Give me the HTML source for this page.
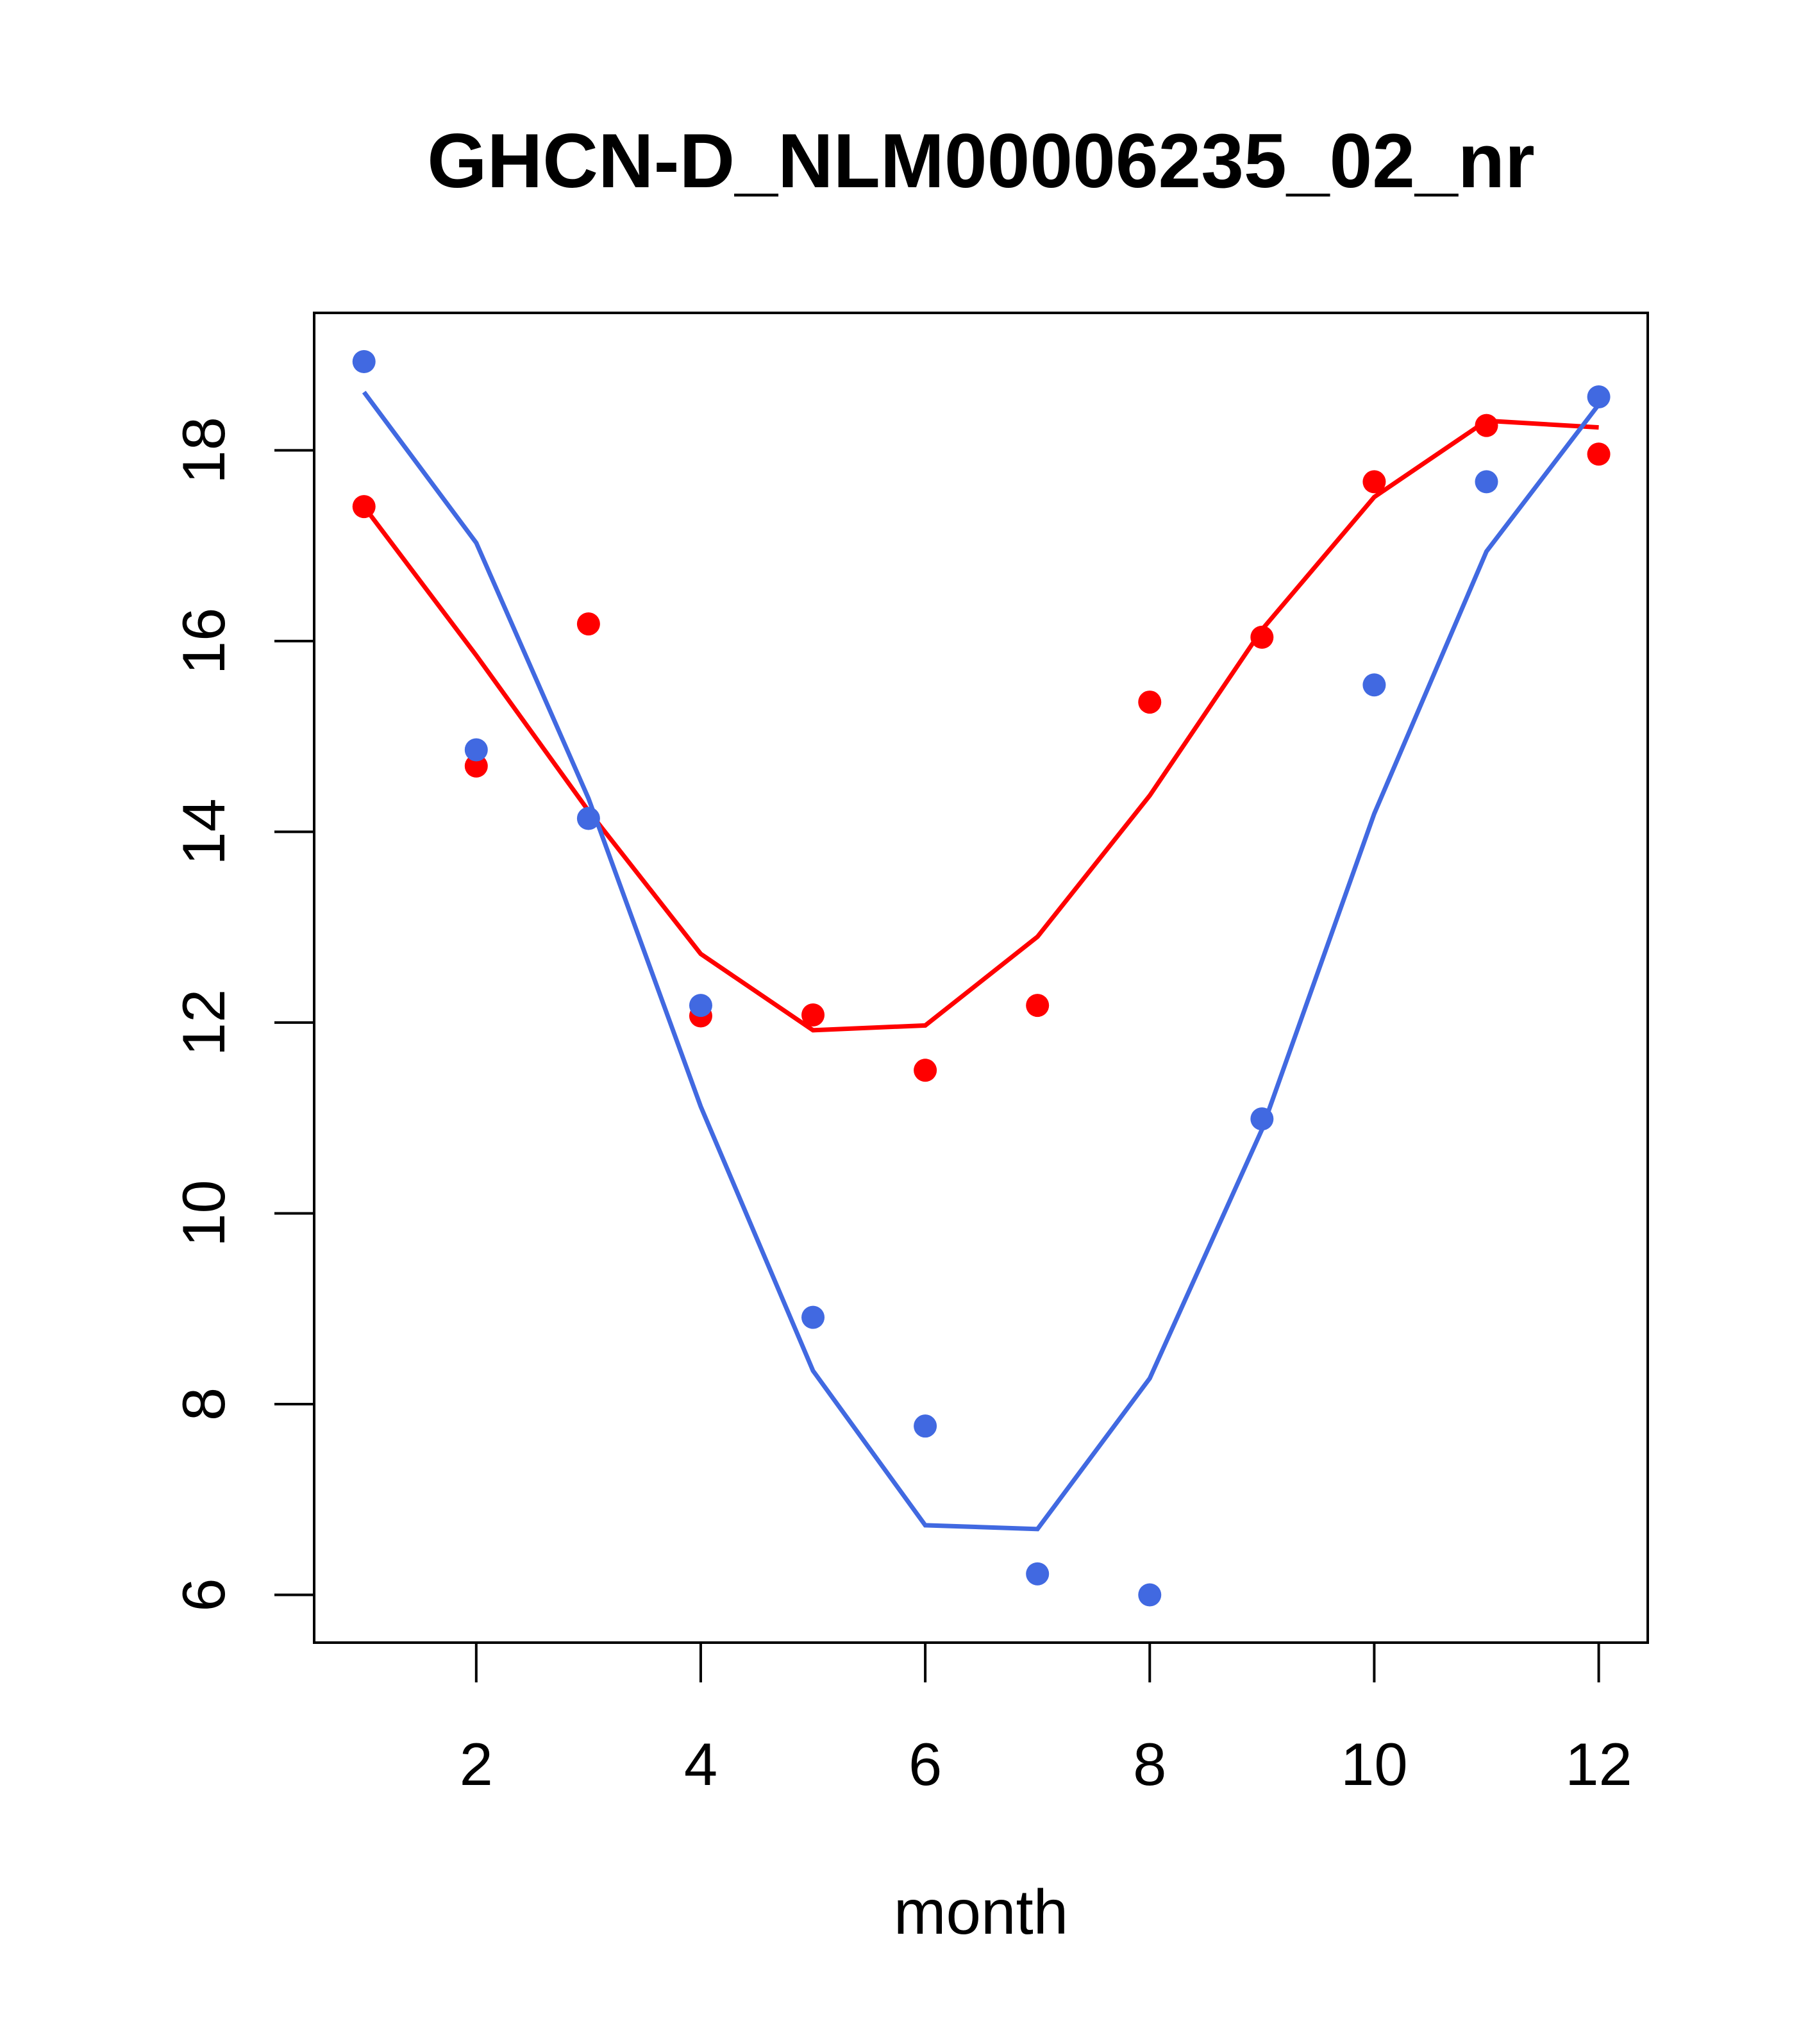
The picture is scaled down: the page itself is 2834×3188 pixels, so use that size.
<!DOCTYPE html>
<html><head><meta charset="utf-8"><style>
html,body{margin:0;padding:0;background:#fff}
svg{display:block}
text{font-family:"Liberation Sans",Arial,sans-serif}
</style></head><body>
<svg id="chart" width="2834" height="3188" xmlns="http://www.w3.org/2000/svg">
<rect width="2834" height="3188" fill="#fff"/>
<text x="1530" y="292" text-anchor="middle" font-size="120" font-weight="bold">GHCN-D_NLM00006235_02_nr</text>
<text x="1530" y="3016" text-anchor="middle" font-size="98">month</text>
<rect x="490" y="488" width="2080" height="2074" fill="none" stroke="#000" stroke-width="4"/>
<g id="xaxis"></g>
<g id="yaxis"></g>
<g id="series"></g>
</svg>
<script>
const months = [1,2,3,4,5,6,7,8,9,10,11,12];
const redPoints = [17.41,14.69,16.18,12.07,12.08,11.50,12.18,15.36,16.04,17.67,18.26,17.96];
const redLine = [17.41,15.85,14.22,12.72,11.92,11.97,12.90,14.38,16.12,17.51,18.31,18.24];
const bluePoints = [18.93,14.86,14.14,12.18,8.91,7.77,6.22,6.00,10.99,15.54,17.67,18.56];
const blueLine = [18.61,17.03,14.35,11.12,8.35,6.73,6.69,8.27,10.88,14.19,16.94,18.48];
const xTicks = [2,4,6,8,10,12];
const yTicks = [6,8,10,12,14,16,18];

const S = 2.024;
function xs(m){return (280.5 + (m-1)*86.5)*S;}
function ys(v){return (347 + (18-v)*73.5)*S;}
const NS="http://www.w3.org/2000/svg";
function mk(tag,attrs,parent){const e=document.createElementNS(NS,tag);for(const k in attrs)e.setAttribute(k,attrs[k]);parent.appendChild(e);return e;}
const xa=document.getElementById('xaxis'), ya=document.getElementById('yaxis'), sg=document.getElementById('series');
mk('line',{x1:xs(2),x2:xs(12),y1:2562,y2:2562,stroke:'#000','stroke-width':4},xa);
xTicks.forEach(t=>{
  const l=mk('line',{x1:xs(t),x2:xs(t),y1:2562,y2:2624,stroke:'#000','stroke-width':4},xa);
  
  
  const tx=mk('text',{x:xs(t),y:2784,'text-anchor':'middle','font-size':94},xa);
  tx.textContent=t;
  
  
});
yTicks.forEach(t=>{
  const y=ys(t);
  const l=mk('line',{x1:428,x2:490,y1:y,y2:y,stroke:'#000','stroke-width':4},ya);
  
  
  const tx=mk('text',{x:0,y:0,'text-anchor':'middle','font-size':94,transform:`translate(350,${y}) rotate(-90)`},ya);
  tx.textContent=t;
  
  
});
function line(vals,color,name){
  const p=mk('polyline',{points:vals.map((v,i)=>xs(months[i])+','+ys(v)).join(' '),fill:'none',stroke:color,'stroke-width':7},sg);
  
  
}
function pts(vals,color,name){
  vals.forEach((v,i)=>{
    const c=mk('circle',{cx:xs(months[i]),cy:ys(v),r:18,fill:color},sg);
    
    
  });
}
line(redLine,'#ff0000','red-line');
line(blueLine,'#4169e1','blue-line');
pts(redPoints,'#ff0000','red-point');
pts(bluePoints,'#4169e1','blue-point');
</script>
</body></html>
